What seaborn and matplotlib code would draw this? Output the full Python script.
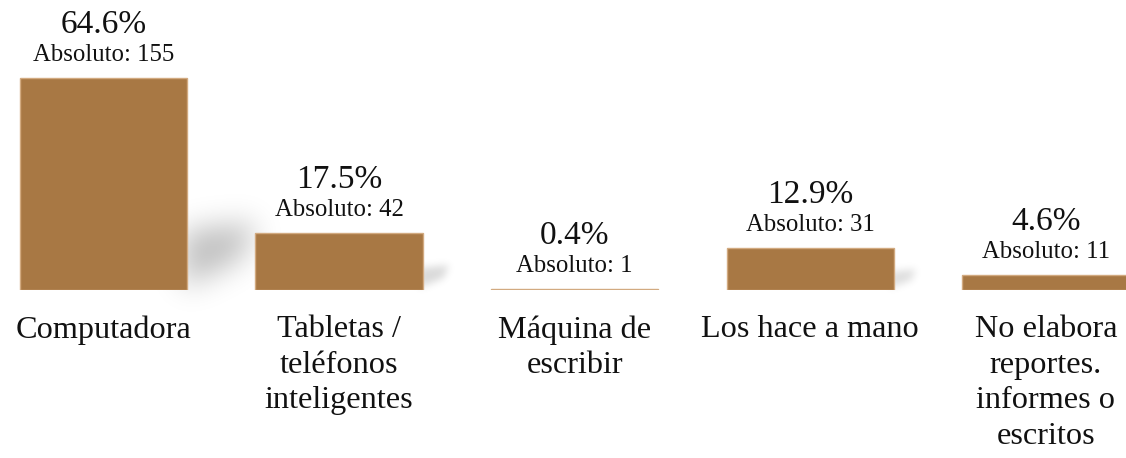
import numpy as np
import pandas as pd
import matplotlib
matplotlib.use("Agg")
import matplotlib.pyplot as plt
from matplotlib.path import Path
import seaborn as sns

# Data
categories = [
    "Computadora",
    "Tabletas /\nteléfonos\ninteligentes",
    "Máquina de\nescribir",
    "Los hace a mano",
    "No elabora\nreportes.\ninformes o\nescritos",
]
percentages = [64.6, 17.5, 0.4, 12.9, 4.6]
absolutes = [155, 42, 1, 31, 11]

BAR_COLOR = "#A87844"
EDGE_COLOR = "#D2AA80"

sns.set_theme(style="white")
plt.rcParams["font.family"] = ["Liberation Serif", "DejaVu Serif"]

df = pd.DataFrame({"categoria": categories, "porcentaje": percentages})

fig = plt.figure(figsize=(11.26, 4.58), dpi=100)
ax = fig.add_axes([0.0, 0.3668, 1.0, 0.6332])
ax.set_facecolor("none")

sns.barplot(data=df, x="categoria", y="porcentaje", color=BAR_COLOR,
            width=0.71, saturation=1, edgecolor=EDGE_COLOR, linewidth=1,
            ax=ax, zorder=2)

ax.set_xlim(-0.439, 4.34)
ax.set_ylim(0, 88.4)
ax.set_xlabel("")
ax.set_ylabel("")
ax.set_yticks([])
for s in ax.spines.values():
    s.set_visible(False)
ax.tick_params(axis="x", length=0, pad=18, labelsize=23.2, labelcolor="#111111")
for t in ax.get_xticklabels():
    t.set_linespacing(1.3)

# Value labels above each bar
for i, (p, a) in enumerate(zip(percentages, absolutes)):
    ax.annotate(f"{p}%", xy=(i, p), xytext=(0, 32.4), textcoords="offset points",
                ha="center", va="baseline", fontsize=24, color="#111111")
    ax.annotate(f"Absoluto: {a}", xy=(i, p), xytext=(0, 12.2), textcoords="offset points",
                ha="center", va="baseline", fontsize=17.8, color="#111111")

# Soft perspective shadows cast to the right of each bar
fig.canvas.draw()
W, H = fig.canvas.get_width_height()
yy, xx = np.mgrid[0:H, 0:W] + 0.5
pts = np.column_stack([xx.ravel(), yy.ravel()])


def blur(a, sigma):
    r = int(3 * sigma) + 1
    x = np.arange(-r, r + 1)
    k = np.exp(-0.5 * (x / sigma) ** 2)
    k /= k.sum()
    a = np.apply_along_axis(lambda v: np.convolve(v, k, mode="same"), 0, a)
    a = np.apply_along_axis(lambda v: np.convolve(v, k, mode="same"), 1, a)
    return a


alpha = np.zeros((H, W))
for patch in ax.patches:
    bb = patch.get_window_extent()
    h = bb.height
    if h < 5:
        continue
    xr, y0 = bb.x1, bb.y0
    dx = 0.28 * h + 10
    top = 0.24 * h + 8
    poly = [(xr - 4, y0 + 2), (xr - 4, y0 + top), (xr + dx, y0 + top * 1.15),
            (xr + dx * 0.8, y0 + top * 0.55)]
    mask = Path(poly).contains_points(pts).reshape(H, W).astype(float)
    strength = 0.26 * min(1.0, 0.35 + h / 250)
    alpha = np.maximum(alpha, strength * blur(mask, max(4.0, 0.07 * h)))

rgba = np.zeros((H, W, 4))
rgba[..., 3] = alpha
fig.figimage(rgba, xo=0, yo=0, origin="lower", zorder=-1)

fig.savefig("out.png", dpi=100, facecolor="white")
